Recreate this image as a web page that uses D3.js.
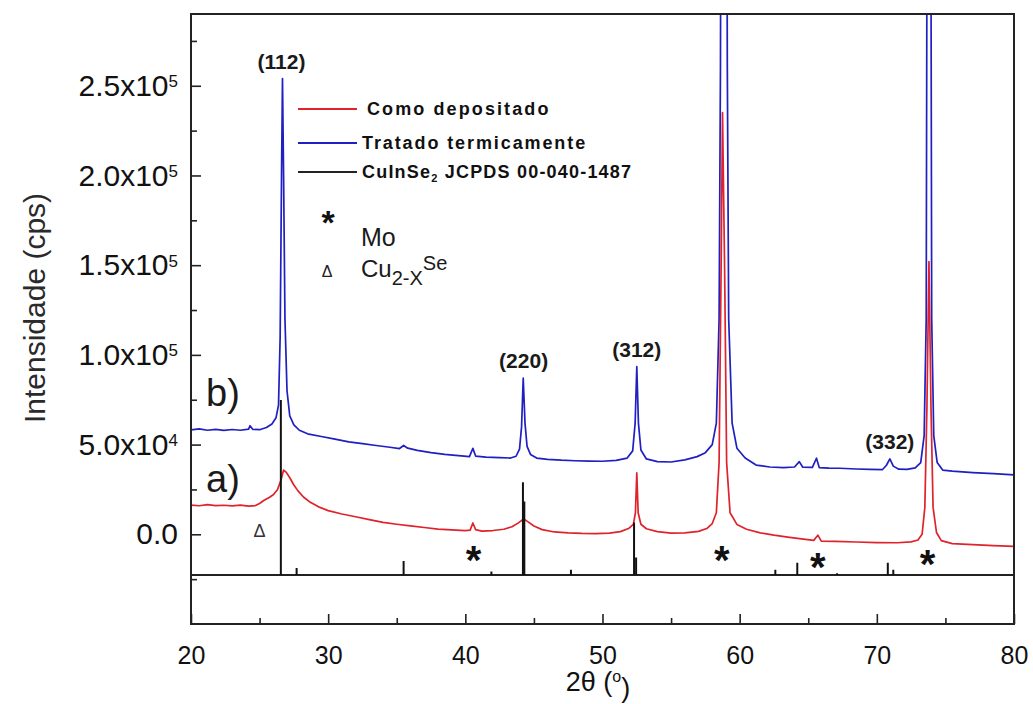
<!DOCTYPE html>
<html><head><meta charset="utf-8">
<script src="https://cdn.jsdelivr.net/npm/d3@7"></script>
<style>
body{margin:0;background:#fff}
svg{display:block;font-family:"Liberation Sans",Arial,Helvetica,sans-serif}
</style>
</head><body>
<svg id="chart" width="1033" height="704"></svg>
<script>
// ---- data (2θ in degrees, intensity in cps) ----
const asDeposited = [[20.0,16300],[20.6,15900],[21.2,16500],[21.8,16000],[22.4,16200],[23.0,15800],[23.6,16300],[24.2,15700],[24.7,16000],[25.0,17200],[25.3,18800],[25.7,20500],[26.0,22000],[26.3,24800],[26.55,30000],[26.75,35800],[26.95,34500],[27.2,31500],[27.5,27500],[27.8,24200],[28.2,20800],[28.7,17800],[29.3,15300],[30.0,13200],[31.0,11300],[32.0,9800],[33.0,8200],[34.0,6600],[35.0,5600],[36.0,4700],[37.0,3800],[38.0,2900],[39.0,2500],[40.0,2000],[40.35,2300],[40.55,6300],[40.75,2600],[41.2,1800],[42.0,2100],[42.8,2800],[43.4,4200],[43.9,6500],[44.25,8600],[44.6,6800],[45.0,4600],[45.6,2600],[46.5,1300],[47.5,800],[48.5,500],[49.5,400],[50.5,700],[51.3,1500],[51.9,3200],[52.25,5500],[52.4,12000],[52.5,34200],[52.6,12000],[52.8,5600],[53.2,3100],[54.0,1500],[55.0,600],[56.0,800],[57.0,1600],[57.6,3200],[58.0,6000],[58.3,12000],[58.5,40000],[58.65,150000],[58.75,235000],[58.9,150000],[59.05,40000],[59.3,12000],[59.8,5500],[60.5,2800],[61.5,800],[62.5,-500],[63.5,-1600],[64.5,-2600],[65.4,-3400],[65.7,-500],[65.95,-3800],[67.0,-4000],[68.5,-4300],[70.0,-4600],[71.5,-4700],[72.5,-4200],[73.0,-3200],[73.3,0],[73.5,15000],[73.65,70000],[73.8,152000],[73.95,70000],[74.1,15000],[74.35,1000],[74.7,-3500],[75.5,-5200],[77.0,-5800],[78.5,-6300],[80.0,-6700]];

const annealed = [[20.0,58200],[20.6,58800],[21.2,58000],[21.8,58500],[22.4,57900],[23.0,58400],[23.6,58000],[24.2,58600],[24.3,60500],[24.5,58500],[25.0,58300],[25.5,59500],[25.9,61500],[26.2,65000],[26.38,72000],[26.5,110000],[26.6,200000],[26.67,254000],[26.75,200000],[26.85,120000],[27.0,80000],[27.2,66000],[27.5,61000],[27.9,58000],[28.5,56000],[29.5,54500],[30.5,53000],[31.5,51500],[32.5,50500],[33.5,49500],[34.5,48500],[35.2,47800],[35.5,49500],[35.8,48000],[36.5,46800],[37.5,45500],[38.5,44500],[39.5,43800],[40.3,43300],[40.55,47900],[40.75,43600],[41.5,43000],[42.5,42700],[43.3,42500],[43.7,43500],[43.95,47500],[44.1,60000],[44.22,87000],[44.35,62000],[44.5,49000],[44.75,44500],[45.2,42500],[46.0,41800],[47.0,41300],[48.0,41000],[49.0,40800],[50.0,40700],[51.0,41200],[51.8,42500],[52.2,46500],[52.38,62000],[52.5,93400],[52.62,62000],[52.8,47000],[53.2,42000],[54.0,40500],[55.0,40300],[56.0,41500],[56.9,43300],[57.5,45500],[58.0,50000],[58.3,62000],[58.5,120000],[58.6,260000],[58.7,600000],[58.85,1000000],[59.0,600000],[59.1,260000],[59.2,120000],[59.45,62000],[59.8,48000],[60.4,42500],[61.2,38600],[62.2,37500],[63.2,37200],[64.0,37500],[64.35,40500],[64.6,37400],[65.3,37300],[65.6,42400],[65.8,37200],[66.5,36900],[67.3,36800],[68.5,36400],[69.5,36200],[70.4,36000],[70.7,38500],[70.95,42000],[71.2,38000],[71.6,36300],[72.2,36200],[72.8,37000],[73.2,40000],[73.45,55000],[73.6,120000],[73.7,500000],[73.8,1200000],[73.9,500000],[74.0,120000],[74.15,55000],[74.4,40000],[74.8,35800],[75.5,35200],[77.0,34400],[78.5,33800],[80.0,33100]];

// JCPDS 00-040-1487 reference sticks: [2θ, relative intensity %]
const jcpdsSticks = [[26.55,100],[27.7,4],[35.5,8],[41.9,2],[44.2,53],[44.3,42],[47.7,3],[52.3,30],[52.45,10],[62.6,3],[64.2,7],[67.1,1],[70.8,7],[71.2,3]];
const stickBaseline = -22700;

const moPeaks = [40.6, 58.7, 65.7, 73.7];
const moMarkLevel = [-10000, -10000, -13500, -12000];
const cuSePeaks = [25.0];
const cuSeMarkLevel = [2000];

const peakLabels = ["(112)", "(220)", "(312)", "(332)"];
const peakLabelPos = [26.6, 44.25, 52.5, 70.95];
const peakLabelTop = [254000, 87000, 93400, 42000];

const curveLabels = ["b)", "a)"];
const curveLabelLevel = [71500, 23600];

const seriesNames = ["Como depositado", "Tratado termicamente", "CuInSe", "JCPDS 00-040-1487"];

const xMajorTicks = [20, 30, 40, 50, 60, 70, 80];
const xMinorTicks = [25, 35, 45, 55, 65, 75];
const yMajorTicks = [0, 50000, 100000, 150000, 200000, 250000];
const yMinorTicks = [-25000, 25000, 75000, 125000, 175000, 225000, 275000];
const yTickMantissa = ["0.0", "5.0x10", "1.0x10", "1.5x10", "2.0x10", "2.5x10"];
const yTickExponent = ["", "4", "5", "5", "5", "5"];

// ---- drawing ----
const svg = d3.select("#chart");
const L = 191, R = 1014, T = 14, B = 624;
const x = d3.scaleLinear().domain([20, 80]).range([L, R]);
const y = d3.scaleLinear().domain([-50000, 290000]).range([B, T]);
const stickLen = d3.scaleLinear().domain([0, 100]).range([0, 175]);

const RED = "#e0222b", BLUE = "#1f1fc2";

svg.append("defs").append("clipPath").attr("id", "clip")
  .append("rect").attr("x", L).attr("y", T).attr("width", R - L).attr("height", B - T);

const line = d3.line().x(d => x(d[0])).y(d => y(d[1]));
const plot = svg.append("g").attr("clip-path", "url(#clip)");

plot.append("path").datum(annealed).attr("d", line)
  .attr("fill", "none").attr("stroke", BLUE).attr("stroke-width", 1.7).attr("stroke-linejoin", "round");
plot.append("path").datum(asDeposited).attr("d", line)
  .attr("fill", "none").attr("stroke", RED).attr("stroke-width", 1.7).attr("stroke-linejoin", "round");

// stick baseline and sticks
const y0s = y(stickBaseline);
svg.append("line").attr("x1", L).attr("x2", R).attr("y1", y0s).attr("y2", y0s)
  .attr("stroke", "#222").attr("stroke-width", 2);
svg.append("g").selectAll("line").data(jcpdsSticks).join("line")
  .attr("x1", d => x(d[0])).attr("x2", d => x(d[0]))
  .attr("y1", y0s).attr("y2", d => y0s - stickLen(d[1]))
  .attr("stroke", "#111").attr("stroke-width", 2);

// axes
const ax = svg.append("g").attr("transform", `translate(0,${B})`);
ax.call(d3.axisBottom(x).tickValues(xMajorTicks).tickSizeInner(-10).tickSizeOuter(0).tickPadding(22).tickFormat(d3.format("d")));
const axm = svg.append("g").attr("transform", `translate(0,${B})`);
axm.call(d3.axisBottom(x).tickValues(xMinorTicks).tickSizeInner(-6).tickSizeOuter(0).tickFormat(""));
const ay = svg.append("g").attr("transform", `translate(${L},0)`);
ay.call(d3.axisLeft(y).tickValues(yMajorTicks).tickSizeInner(-10).tickSizeOuter(0).tickPadding(13).tickFormat(""));
const aym = svg.append("g").attr("transform", `translate(${L},0)`);
aym.call(d3.axisLeft(y).tickValues(yMinorTicks).tickSizeInner(-6).tickSizeOuter(0).tickFormat(""));
[ax, axm, ay, aym].forEach(g => {
  g.select(".domain").remove();
  g.selectAll(".tick line").attr("stroke", "#222").attr("stroke-width", 1.6);
});
ax.selectAll(".tick text").attr("font-size", 25).attr("fill", "#111").attr("font-family", "Liberation Sans, Arial, sans-serif");
ay.selectAll(".tick text").each(function(d) {
  const i = yMajorTicks.indexOf(d);
  const t = d3.select(this).attr("font-size", 30).attr("fill", "#111").attr("font-family", "Liberation Sans, Arial, sans-serif").text(null);
  t.append("tspan").text(yTickMantissa[i]);
  if (yTickExponent[i]) t.append("tspan").attr("font-size", 17).attr("dy", "-0.5em").text(yTickExponent[i]);
});

// frame
svg.append("rect").attr("x", L).attr("y", T).attr("width", R - L).attr("height", B - T)
  .attr("fill", "none").attr("stroke", "#222").attr("stroke-width", 2);

// axis titles
svg.append("text").attr("x", 598).attr("y", 691).attr("text-anchor", "middle")
  .attr("font-size", 27).attr("fill", "#111")
  .call(t => { t.append("tspan").text("2θ ("); t.append("tspan").attr("font-size", 16).attr("dy", "-0.55em").text("o"); t.append("tspan").attr("dy", "0.55em").text(")"); });
svg.append("text").attr("transform", "translate(45,308) rotate(-90)").attr("text-anchor", "middle")
  .attr("font-size", 30).attr("fill", "#2a2a2a").text("Intensidade (cps)");

// peak labels
svg.append("g").selectAll("text").data(peakLabels).join("text")
  .attr("x", (d, i) => x(peakLabelPos[i])).attr("y", (d, i) => y(peakLabelTop[i]) - 10)
  .attr("text-anchor", "middle").attr("font-size", 21).attr("font-weight", "bold").attr("fill", "#1a1a1a")
  .text(d => d);

// curve labels a) b)
svg.append("g").selectAll("text").data(curveLabels).join("text")
  .attr("x", 206).attr("y", (d, i) => y(curveLabelLevel[i]))
  .attr("font-size", 38).attr("fill", "#1a1a1a").text(d => d);

// phase markers
svg.append("g").selectAll("text").data(moPeaks).join("text")
  .attr("x", d => x(d)).attr("y", (d, i) => y(moMarkLevel[i]) + 22)
  .attr("text-anchor", "middle").attr("font-size", 40).attr("font-weight", "bold").attr("fill", "#111").text("*");
svg.append("g").selectAll("text").data(cuSePeaks).join("text")
  .attr("x", d => x(d)).attr("y", (d, i) => y(cuSeMarkLevel[i]) + 6)
  .attr("text-anchor", "middle").attr("font-size", 18).attr("fill", "#333").text("Δ");

// legend
const lg = svg.append("g");
const legendRows = [[seriesNames[0], RED, 109, 367], [seriesNames[1], BLUE, 143, 362], [null, "#222", 172, 362]];
legendRows.forEach(r => {
  lg.append("line").attr("x1", 298).attr("x2", 357).attr("y1", r[2]).attr("y2", r[2]).attr("stroke", r[1]).attr("stroke-width", 2);
});
lg.append("text").attr("x", 367).attr("y", 115).attr("font-size", 18).attr("font-weight", "bold").attr("letter-spacing", 2.1).attr("fill", "#111").text(seriesNames[0]);
lg.append("text").attr("x", 362).attr("y", 149).attr("font-size", 18).attr("font-weight", "bold").attr("letter-spacing", 1.9).attr("fill", "#111").text(seriesNames[1]);
lg.append("text").attr("x", 362).attr("y", 178).attr("font-size", 18).attr("font-weight", "bold").attr("letter-spacing", 1.2).attr("fill", "#111")
  .call(t => { t.append("tspan").text(seriesNames[2]); t.append("tspan").attr("font-size", 11).attr("dy", 4).text("2"); t.append("tspan").attr("dy", -4).text(" " + seriesNames[3]); });
lg.append("text").attr("x", 328).attr("y", 234).attr("text-anchor", "middle").attr("font-size", 34).attr("font-weight", "bold").attr("fill", "#111").text("*");
lg.append("text").attr("x", 361).attr("y", 246).attr("font-size", 25).attr("fill", "#1a1a1a").text("Mo");
lg.append("text").attr("x", 327).attr("y", 277).attr("text-anchor", "middle").attr("font-size", 16).attr("fill", "#222").text("Δ");
lg.append("text").attr("x", 361).attr("y", 277).attr("font-size", 24).attr("fill", "#1a1a1a")
  .call(t => { t.append("tspan").text("Cu"); t.append("tspan").attr("font-size", 20).attr("dy", 8).text("2-X"); t.append("tspan").attr("font-size", 20).attr("dy", -15).text("Se"); });
</script>
</body></html>
